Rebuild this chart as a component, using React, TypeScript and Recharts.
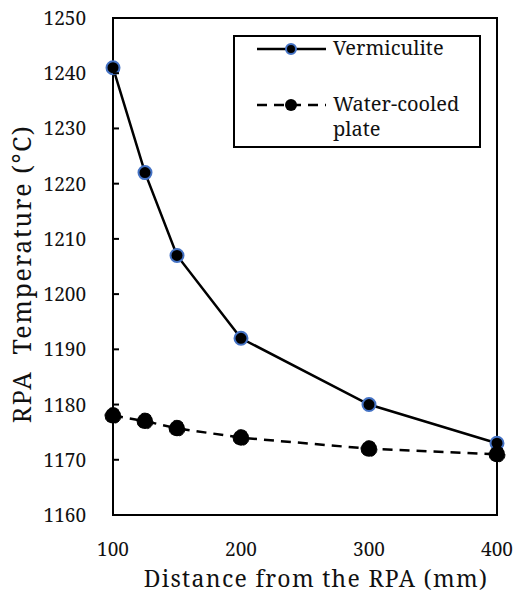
import { LineChart, Line, XAxis, YAxis, ReferenceArea } from "recharts";

const distance = [100, 125, 150, 200, 300, 400];
const vermiculite = [1241, 1222, 1207, 1192, 1180, 1173];
const waterCooled = [1178, 1177, 1175.7, 1174, 1172, 1171];
const xTicks = [100, 200, 300, 400];
const yTicks = [1160, 1170, 1180, 1190, 1200, 1210, 1220, 1230, 1240, 1250];

const data = distance.map((d, i) => ({
  distance: d,
  vermiculite: vermiculite[i],
  waterCooled: waterCooled[i],
}));

const FONT = "'Noto Serif', 'Liberation Serif', serif";
const INK = "#111";
const W = 515;
const H = 594;
const PLOT_LEFT = 113;

function YTick({ x, y, payload }: any) {
  return (
    <g>
      <line x1={PLOT_LEFT} x2={PLOT_LEFT + 6} y1={y} y2={y} stroke="#000" strokeWidth={2} />
      <text x={x} y={y} dy={7} textAnchor="end" fontSize={19} style={{ fontFamily: FONT }} fill={INK}>
        {payload.value}
      </text>
    </g>
  );
}

function XTick({ x, y, payload }: any) {
  return (
    <text x={x} y={y} dy={17} textAnchor="middle" fontSize={19} style={{ fontFamily: FONT }} fill={INK}>
      {payload.value}
    </text>
  );
}

// legend drawn as an overlay so it does not push the plot down
function LegendBox() {
  return (
    <div
      style={{
        position: "absolute",
        left: 233,
        top: 35,
        width: 244,
        height: 109,
        border: "2px solid #000",
        background: "#fff",
        fontFamily: FONT,
        fontSize: 20,
        color: INK,
      }}
    >
      <svg width={98} height={109} style={{ position: "absolute", left: 0, top: 0 }}>
        <line x1={22} x2={91} y1={12} y2={12} stroke="#000" strokeWidth={2.5} />
        <circle cx={56} cy={12} r={5} fill="#000" stroke="#4472C4" strokeWidth={2} />
        <line x1={22} x2={91} y1={68} y2={68} stroke="#000" strokeWidth={2.5} strokeDasharray="10 7" />
        <circle cx={56} cy={68} r={6} fill="#000" />
      </svg>
      <div style={{ position: "absolute", left: 98, top: -2, lineHeight: "26px" }}>Vermiculite</div>
      <div style={{ position: "absolute", left: 98, top: 54, lineHeight: "25px" }}>
        Water-cooled
        <br />
        plate
      </div>
    </div>
  );
}

export default function App() {
  return (
    <div style={{ position: "absolute", left: 0, top: 0, width: W, height: H, background: "#fff" }}>
      <LineChart width={W} height={H} data={data} margin={{ top: 18, right: 18, bottom: 0, left: 0 }}>
        <XAxis
          dataKey="distance"
          type="number"
          domain={[100, 400]}
          ticks={xTicks}
          tickLine={false}
          tickMargin={18}
          height={79}
          axisLine={{ stroke: "#000", strokeWidth: 2 }}
          tick={<XTick />}
          label={{
            content: () => (
              <text
                x={316}
                y={587}
                textAnchor="middle"
                fontSize={23}
                letterSpacing={1.3}
                style={{ fontFamily: FONT }}
                fill={INK}
              >
                Distance from the RPA (mm)
              </text>
            ),
          }}
        />
        <YAxis
          type="number"
          domain={[1160, 1250]}
          ticks={yTicks}
          width={PLOT_LEFT}
          tickLine={false}
          tickMargin={21}
          axisLine={{ stroke: "#000", strokeWidth: 2 }}
          tick={<YTick />}
          label={{
            content: () => (
              <text
                x={31}
                y={274}
                transform="rotate(-90 31 274)"
                textAnchor="middle"
                fontSize={25}
                letterSpacing={1.6}
                fill={INK}
                style={{ whiteSpace: "pre", fontFamily: FONT }}
              >
                {"RPA  Temperature (°C)"}
              </text>
            ),
          }}
        />
        <ReferenceArea
          x1={100}
          x2={400}
          y1={1160}
          y2={1250}
          fill="none"
          stroke="#000"
          strokeWidth={2}
          ifOverflow="visible"
        />
        <Line
          dataKey="vermiculite"
          name="Vermiculite"
          stroke="#000"
          strokeWidth={2.5}
          dot={{ r: 6.5, fill: "#000", stroke: "#4472C4", strokeWidth: 2 }}
          activeDot={false}
          isAnimationActive={false}
        />
        <Line
          dataKey="waterCooled"
          name="Water-cooled plate"
          stroke="#000"
          strokeWidth={2.5}
          strokeDasharray="10 7"
          dot={{ r: 8, fill: "#000", stroke: "#000", strokeWidth: 1 }}
          activeDot={false}
          isAnimationActive={false}
        />
      </LineChart>
      <LegendBox />
    </div>
  );
}
